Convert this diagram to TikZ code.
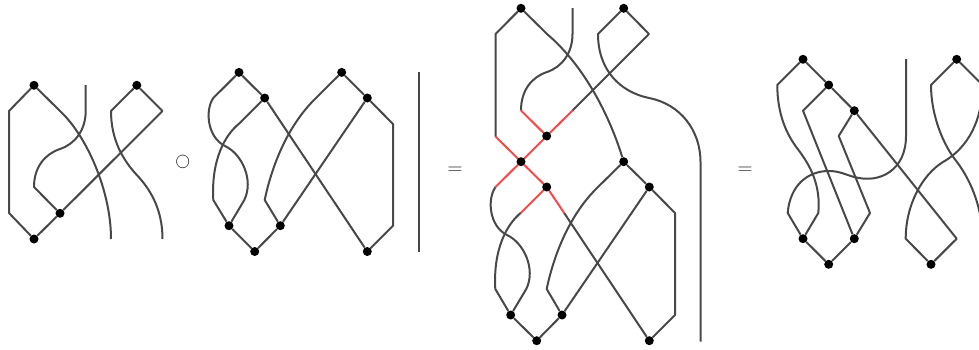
\documentclass[tikz,border=0pt]{standalone}
\pgfdeclarelayer{wires}
\pgfsetlayers{wires,main}
\definecolor{wiregray}{HTML}{484848}
\definecolor{wirered}{HTML}{F54A4A}
\tikzset{
  dot/.style={circle,fill=black,draw=none,inner sep=0pt,minimum size=9pt},
  wire/.style={draw=wiregray,line width=2pt,line join=round,line cap=butt},
  hot/.style={draw=wirered,line width=2pt,line join=round,line cap=round},
}
\begin{document}
\begin{tikzpicture}[x=1pt,y=-1pt]
\useasboundingbox (0,0) rectangle (979,349);
\clip (0,0) rectangle (979,349);
% diagram 1 dots
\node[dot] (a1) at (34,85.3) {};
\node[dot] (a2) at (34,239) {};
\node[dot] (a3) at (60,213.3) {};
\node[dot] (a4) at (136.8,85.3) {};
% diagram 2 dots
\node[dot] (b1) at (239,72.4) {};
\node[dot] (b2) at (264.7,98) {};
\node[dot] (b3) at (341.7,72.4) {};
\node[dot] (b4) at (367.3,98) {};
\node[dot] (b5) at (229,225.7) {};
\node[dot] (b6) at (280.3,225.7) {};
\node[dot] (b7) at (254.7,251.5) {};
\node[dot] (b8) at (367.3,251.5) {};
% diagram 3 dots
\node[dot] (c1) at (521,8.3) {};
\node[dot] (c2) at (623.7,8.3) {};
\node[dot] (c3) at (546.7,136) {};
\node[dot] (c4) at (521,161.7) {};
\node[dot] (c5) at (623.7,161.7) {};
\node[dot] (c6) at (546.7,187) {};
\node[dot] (c7) at (649.3,187) {};
\node[dot] (c8) at (510.7,315) {};
\node[dot] (c9) at (562,315) {};
\node[dot] (c10) at (536.7,340.7) {};
\node[dot] (c11) at (649.3,340.7) {};
% diagram 4 dots
\node[dot] (d1) at (803,59.3) {};
\node[dot] (d2) at (828.7,85) {};
\node[dot] (d3) at (854.3,110.7) {};
\node[dot] (d4) at (956.7,59.3) {};
\node[dot] (d5) at (803,238.7) {};
\node[dot] (d6) at (854.3,238.7) {};
\node[dot] (d7) at (828.7,264.3) {};
\node[dot] (d8) at (931,264.3) {};
% free ends
\coordinate (e1) at (85.7,85);
\coordinate (e2) at (111,239);
\coordinate (e3) at (162.5,239);
\coordinate (e4) at (418.5,72);
\coordinate (e5) at (418.5,252);
\coordinate (e6) at (572.5,8);
\coordinate (e7) at (700.5,341.5);
\coordinate (e8) at (906,59);
% symbols
\node[text=black,font=\fontsize{15.5}{17}\selectfont] (op) at (182.7,162) {$\bigcirc$};
\node[text=black!85,font=\fontsize{20}{21}\selectfont] (eq1) at (455,170.5) {$=$};
\node[text=black!85,font=\fontsize{20}{21}\selectfont] (eq2) at (745,170.5) {$=$};
\begin{pgfonlayer}{wires}
% diagram 1
\draw[wire] (a1) -- (9,111) -- (9,213) -- (a2);
\draw[wire] (a2) -- (a3);
\draw[wire] (a3) -- (162.5,111) -- (a4);
\draw[wire] (a4) -- (111,111) .. controls (111,140) and (123,160) .. (136.8,175) .. controls (151,190) and (162.5,210) .. (e3);
\draw[wire] (a1) -- (60,111) .. controls (86,135) and (111,190) .. (e2);
\draw[wire] (e1) -- (85.7,111) .. controls (85.7,130) and (75,144) .. (60,149) .. controls (45,154) and (34,167) .. (34,187) -- (a3);
% diagram 2
\draw[wire] (b1) -- (213.3,98) .. controls (205,110) and (207,137) .. (225,146) .. controls (242,154) and (254,180) .. (244.3,200) -- (b5);
\draw[wire] (b1) -- (b2);
\draw[wire] (b2) -- (239,123.7) .. controls (225,135) and (211,160) .. (213.3,200) -- (b5);
\draw[wire] (b5) -- (b7);
\draw[wire] (b7) -- (b6);
\draw[wire] (b6) -- (b4);
\draw[wire] (b6) -- (264.7,200) .. controls (272,165) and (288,125) .. (316,98) -- (b3);
\draw[wire] (b3) -- (b4);
\draw[wire] (b4) -- (393,124) -- (393,225.7) -- (b8);
\draw[wire] (b2) -- (b8);
\draw[wire] (e4) -- (e5);
% diagram 3, upper part
\draw[wire] (c1) -- (495.5,34) -- (495.5,136.5);
\draw[wire] (c1) -- (547,34) .. controls (580,62) and (607,108) .. (c5);
\draw[wire] (e6) -- (572.5,34) .. controls (572.5,53) and (562,67) .. (547,72) .. controls (532,77) and (521,90) .. (521,110.5);
\draw[wire] (572.5,110.5) -- (649,34) -- (c2);
\draw[wire] (c2) -- (598,34) .. controls (598,70) and (620,92) .. (649,98) .. controls (680,104) and (700.5,130) .. (700.5,162) -- (e7);
% diagram 3, lower part
\draw[wire] (495.5,187) .. controls (487,199) and (489,226) .. (507,235) .. controls (524,243) and (536,269) .. (526.3,289) -- (c8);
\draw[wire] (521,212.7) .. controls (507,224) and (493,249) .. (495.3,289) -- (c8);
\draw[wire] (c8) -- (c10);
\draw[wire] (c10) -- (c9);
\draw[wire] (c9) -- (c7);
\draw[wire] (c9) -- (546.7,289) .. controls (554,254) and (570,214) .. (598,187) -- (c5);
\draw[wire] (c5) -- (c7);
\draw[wire] (c7) -- (675,213) -- (675,315) -- (c11);
\draw[wire] (564,212.7) -- (c11);
% red section
\draw[hot] (495.5,136.5) -- (c4);
\draw[hot] (c4) -- (c6);
\draw[hot] (c6) -- (564,212.7);
\draw[hot] (521,110.5) -- (c3);
\draw[hot] (572.5,110.5) -- (c3);
\draw[hot] (c3) -- (c4);
\draw[hot] (c4) -- (495.5,187);
\draw[hot] (c6) -- (521,212.7);
% diagram 4
\draw[wire] (d1) -- (777.3,85) .. controls (777.3,115) and (787,135) .. (797.7,149) .. controls (810,165) and (821,185) .. (818.3,213) -- (d5);
\draw[wire] (d1) -- (d2);
\draw[wire] (d2) -- (d3);
\draw[wire] (d2) -- (803,110.7) -- (d6);
\draw[wire] (d3) -- (838.7,136) -- (870,213) -- (d6);
\draw[wire] (d6) -- (d7);
\draw[wire] (d7) -- (d5);
\draw[wire] (d5) -- (787.7,213) .. controls (790,185) and (808,171) .. (828.7,171) .. controls (840,171) and (846,175) .. (854.3,177) .. controls (880,184) and (906,170) .. (906,136) -- (e8);
\draw[wire] (d3) -- (956.7,238.7) -- (d8);
\draw[wire] (d8) -- (905.7,238.7) .. controls (905.7,205) and (922,175) .. (943,162) .. controls (968,148) and (982.5,120) .. (982.5,85) -- (d4);
\draw[wire] (d4) -- (931,85) .. controls (931,115) and (943,145) .. (957,162) .. controls (972,182) and (982.5,210) .. (982.5,239);
\end{pgfonlayer}
\end{tikzpicture}
\end{document}
